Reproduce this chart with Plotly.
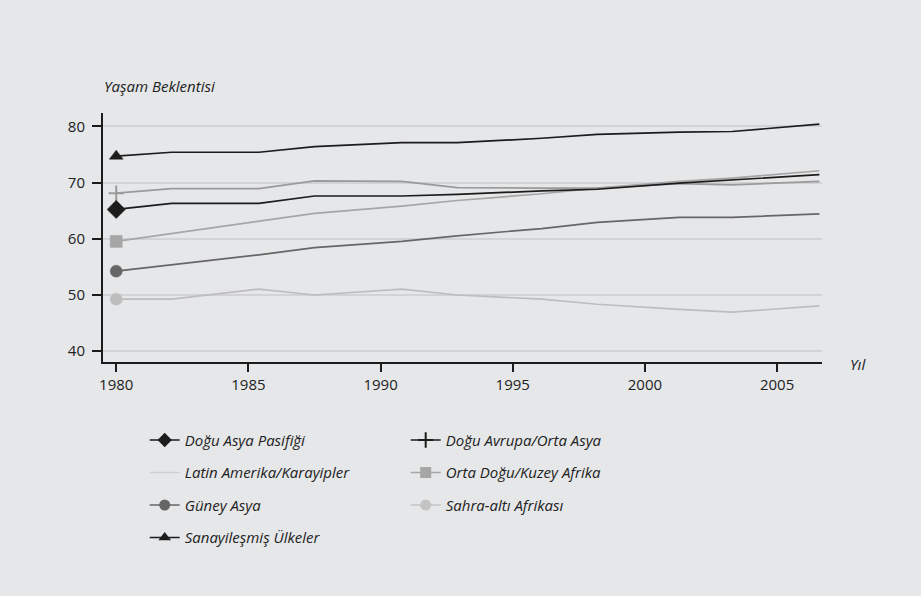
import plotly.graph_objects as go

# Survey years (sampling points along the time axis)
years = [1980, 1982.1, 1985.4, 1987.5, 1990.8, 1992.9, 1996.1, 1998.2, 2001.3, 2003.3, 2006.6]

# Life expectancy by region
dogu_asya = [65.2, 66.3, 66.3, 67.6, 67.6, 67.9, 68.5, 68.8, 69.9, 70.5, 71.4]
dogu_avrupa = [68.1, 68.9, 68.9, 70.3, 70.2, 69.1, 69.0, 69.0, 69.8, 69.6, 70.2]
orta_dogu = [59.5, 60.9, 63.0, 64.5, 65.8, 66.8, 68.0, 69.0, 70.2, 70.8, 72.1]
guney_asya = [54.2, 55.3, 57.1, 58.4, 59.5, 60.5, 61.8, 62.9, 63.8, 63.8, 64.4]
sahra_alti = [49.2, 49.2, 51.0, 49.95, 51.0, 49.95, 49.2, 48.3, 47.4, 46.9, 48.0]
sanayi = [74.7, 75.4, 75.4, 76.4, 77.1, 77.1, 77.9, 78.6, 79.0, 79.1, 80.4]

x_ticks = [1980, 1985, 1990, 1995, 2000, 2005]
y_ticks = [40, 50, 60, 70, 80]

BG = "#e6e7e9"
FONT = "Open Sans"
INK = "#1c1c1c"

fig = go.Figure()


def add_series(values, color, symbol, size, width=1.7):
    # line with a marker on the first point only
    sizes = [size] + [0] * (len(values) - 1)
    fig.add_trace(go.Scatter(
        x=years, y=values, mode="lines+markers",
        line=dict(color=color, width=width),
        marker=dict(symbol=symbol, size=sizes, color=color, opacity=1,
                    line=dict(color=color, width=2 if "thin" in symbol else 0.5)),
        showlegend=False, hoverinfo="skip"))


add_series(sahra_alti, "#bdbdbd", "circle", 12)
add_series(guney_asya, "#666666", "circle", 12)
add_series(orta_dogu, "#a6a6a6", "square", 12)
add_series(dogu_avrupa, "#9a9a9a", "cross-thin", 11)
add_series(dogu_asya, INK, "diamond", 14)
add_series(sanayi, INK, "triangle-up", 12)


def legend_entry(name, color, symbol, legend, group, size=11):
    fig.add_trace(go.Scatter(
        x=[None], y=[None], mode="lines+markers" if symbol else "lines",
        name=name, legend=legend, legendgroup=group,
        line=dict(color=color, width=1.7),
        marker=dict(symbol=symbol or "circle", size=size, color=color,
                    line=dict(color=color, width=2 if symbol and "thin" in symbol else 0))))


legend_entry("Doğu Asya Pasifiği", INK, "diamond", "legend", "a")
legend_entry("Latin Amerika/Karayipler", "#cfcfcf", None, "legend", "b")
legend_entry("Güney Asya", "#666666", "circle", "legend", "c")
legend_entry("Sanayileşmiş Ülkeler", INK, "triangle-up", "legend", "d")
legend_entry("Doğu Avrupa/Orta Asya", INK, "cross-thin", "legend2", "e")
legend_entry("Orta Doğu/Kuzey Afrika", "#a6a6a6", "square", "legend2", "f")
legend_entry("Sahra-altı Afrikası", "#c4c4c4", "circle", "legend2", "g")

legend_style = dict(
    bgcolor="rgba(0,0,0,0)", yanchor="top", xanchor="left",
    font=dict(family=FONT, size=15, color="#222222", style="italic"),
    tracegroupgap=10, itemwidth=30)

fig.update_layout(
    width=921, height=596,
    paper_bgcolor=BG, plot_bgcolor=BG,
    margin=dict(l=103, r=99, t=113, b=234),
    font=dict(family=FONT, color="#222222"),
    xaxis=dict(range=[1979.5, 2006.7], tickvals=x_ticks, showgrid=False,
               showline=True, linecolor=INK, linewidth=2,
               ticks="outside", ticklen=8, tickcolor=INK, tickwidth=1.5,
               tickfont=dict(size=15, color="#222222"), zeroline=False),
    yaxis=dict(range=[38.0, 82.4], tickvals=y_ticks, showgrid=True,
               gridcolor="#d2d3d5", gridwidth=1.5,
               showline=True, linecolor=INK, linewidth=2,
               ticks="outside", ticklen=9, tickcolor=INK, tickwidth=1.5,
               ticklabelstandoff=4,
               tickfont=dict(size=15, color="#222222"), zeroline=False),
    legend=dict(x=0.058, y=-0.248, **legend_style),
    legend2=dict(x=0.421, y=-0.248, **legend_style),
    annotations=[
        dict(text="Yaşam Beklentisi", xref="paper", yref="paper", x=-0.002, y=1.108,
             xanchor="left", yanchor="middle", showarrow=False,
             font=dict(family=FONT, size=15, color="#222222", style="italic")),
        dict(text="Yıl", xref="paper", yref="paper", x=1.036, y=-0.01,
             xanchor="left", yanchor="middle", showarrow=False,
             font=dict(family=FONT, size=15, color="#222222", style="italic")),
    ],
)

fig.write_html("out.html")
